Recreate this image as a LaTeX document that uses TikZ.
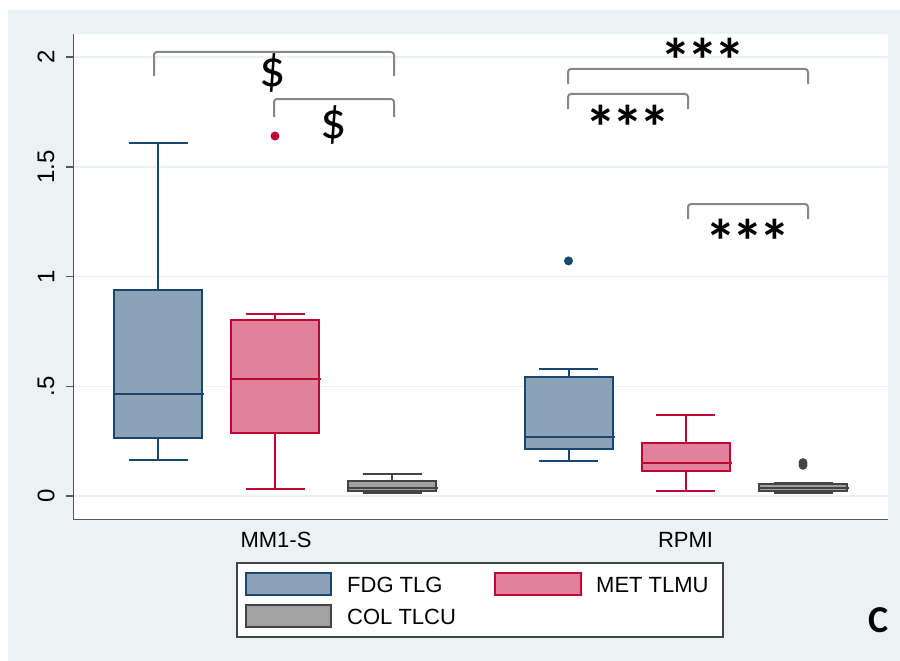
\documentclass[tikz,border=0pt]{standalone}
\usepackage{fontspec}
\setmainfont{Liberation Sans}
\newfontfamily\calfont{Carlito}
\definecolor{bgblue}{RGB}{234,242,243}
\definecolor{navyb}{RGB}{26,71,111}
\definecolor{crimson}{RGB}{193,5,52}
\definecolor{darkg}{RGB}{68,68,68}
\definecolor{brackg}{RGB}{135,135,135}
\tikzset{
  fdg box/.style={draw=navyb, fill=navyb!50!white, line width=2},
  met box/.style={draw=crimson, fill=crimson!50!white, line width=2},
  col box/.style={draw=darkg, fill=darkg!50!white, line width=2},
  fdg line/.style={draw=navyb, line width=2},
  met line/.style={draw=crimson, line width=2},
  col line/.style={draw=darkg, line width=2},
  grid line/.style={draw=bgblue, line width=1.5},
  axis line/.style={draw=darkg!90, line width=1.5},
  tick label/.style={inner sep=0, rotate=90, font=\fontsize{24}{28}\selectfont},
  cat label/.style={inner sep=0, font=\fontsize{22}{26}\selectfont},
  key text/.style={inner sep=0, anchor=west, font=\fontsize{22}{26}\selectfont},
  bracket/.style={draw=brackg, line width=2, rounded corners=3},
  dollar/.style={inner sep=0, font=\calfont\fontsize{52}{52}\selectfont},
  stars/.style={inner sep=0, anchor=base, font=\calfont\bfseries\fontsize{62}{62}\selectfont}
}
\begin{document}
\begin{tikzpicture}[x=1pt,y=-1pt]
\useasboundingbox (0,0) rectangle (900,661);
\fill[bgblue] (8,10) rectangle (900,661);
\fill[white] (73,34) rectangle (888,519);
\begin{scope}[shift={(0,496)},y=219.5pt]
  \foreach \v/\t [count=\i] in {0/0,0.5/.5,1/1,1.5/1.5,2/2}{
    \draw[grid line] (73,\v) -- (888,\v);
    \draw[axis line] (66,\v) -- (73,\v);
    \node[tick label] (tick\i) at (46,\v) {\t};
  }
  \foreach \x/\lw/\qa/\md/\qb/\uw/\c in {
      158/0.164/0.266/0.465/0.940/1.610/fdg,
      275/0.031/0.285/0.535/0.800/0.829/met,
      392/0.012/0.024/0.038/0.070/0.100/col,
      568.5/0.159/0.213/0.270/0.541/0.580/fdg,
      685.5/0.021/0.115/0.152/0.240/0.370/met,
      803/0.012/0.024/0.038/0.055/0.061/col}{
    \draw[\c\space line] (\x,\qb) -- (\x,\uw) (\x-29.5,\uw) -- (\x+29.5,\uw);
    \draw[\c\space line] (\x,\qa) -- (\x,\lw) (\x-29.5,\lw) -- (\x+29.5,\lw);
    \draw[\c\space box] (\x-44,\qa) rectangle (\x+44,\qb);
    \draw[\c\space line] (\x-44,\md) -- (\x+46,\md);
  }
  \fill[crimson] (275,1.64) circle (4.5pt);
  \fill[navyb] (568.5,1.071) circle (4.5pt);
  \fill[darkg] (803,0.140) circle (4.5pt);
  \fill[darkg] (803,0.152) circle (4.5pt);
\end{scope}
\draw[axis line] (73.5,34) -- (73.5,519.5) -- (888,519.5);
\node[cat label] (mm1s) at (276,539.5) {MM1-S};
\node[cat label] (rpmi) at (685.5,539.5) {RPMI};
\draw[bracket] (154,76) -- (154,52) -- (394,52) -- (394,76);
\draw[bracket] (274,117) -- (274,99) -- (394,99) -- (394,117);
\draw[bracket] (568,84) -- (568,69) -- (808,69) -- (808,84);
\draw[bracket] (568,109) -- (568,94) -- (688,94) -- (688,109);
\draw[bracket] (688,219) -- (688,204) -- (808,204) -- (808,219);
\node[dollar] (sig1) at (273,73) {\$};
\node[dollar] (sig2) at (334,125) {\$};
\node[stars] (sig3) at (703,82) {*\hspace{-4pt}*\hspace{-4pt}*};
\node[stars] (sig4) at (628,149) {*\hspace{-4pt}*\hspace{-4pt}*};
\node[stars] (sig5) at (748,263) {*\hspace{-4pt}*\hspace{-4pt}*};
\draw[fill=white, draw=darkg, line width=1.5] (237,563) rectangle (723,637);
\draw[fdg box] (246,573) rectangle (331,595);
\draw[met box] (495,573) rectangle (581,595);
\draw[col box] (246,605) rectangle (331,627);
\node[key text] (kfdg) at (347,585) {FDG TLG};
\node[key text] (kmet) at (596,585) {MET TLMU};
\node[key text] (kcol) at (347,617) {COL TLCU};
\node[inner sep=0, font=\calfont\bfseries\fontsize{38}{38}\selectfont] (panel) at (879,620) {C};
\end{tikzpicture}
\end{document}
